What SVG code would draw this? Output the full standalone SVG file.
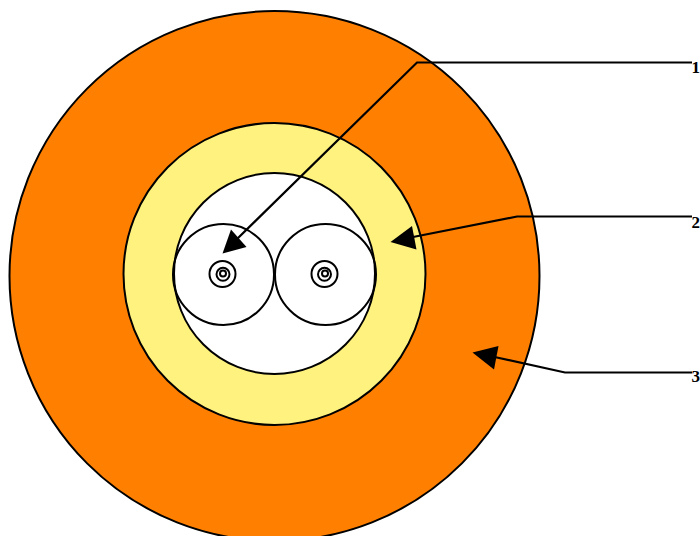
<svg xmlns="http://www.w3.org/2000/svg" width="700" height="536" viewBox="0 0 700 536">
<style>
circle{stroke:#000;stroke-width:2;fill:none}
.l{fill:none;stroke:#000;stroke-width:2.200}
.h{fill:#000;stroke:none}
text{font-family:"Liberation Serif",serif;font-weight:bold;font-size:17px;fill:#000}
</style>
<rect width="700" height="536" fill="#fff"/>
<g id="jacket"><circle cx="274.500" cy="276" r="265" style="fill:#ff8000"/></g>
<g id="strength"><circle cx="274.500" cy="274" r="151" style="fill:#fff27f"/></g>
<g id="tube"><circle cx="274.500" cy="273.500" r="100.500" style="fill:#fff"/></g>
<g id="fiber-left">
<circle cx="223.500" cy="274.500" r="50.500"/>
<circle cx="222.500" cy="274" r="13"/>
<circle cx="223" cy="274.300" r="6.500"/>
<circle cx="223" cy="273.500" r="3"/>
</g>
<g id="fiber-right">
<circle cx="325.500" cy="274.500" r="50.500"/>
<circle cx="324.500" cy="274" r="13"/>
<circle cx="324.500" cy="274.300" r="6.500"/>
<circle cx="325" cy="273.500" r="3"/>
</g>
<g id="connectors">
<path class="l" d="M692 62.500H417L236 240"/>
<polygon class="h" points="222.500,253.500 231,229.500 246.500,247"/>
<path class="l" d="M692 216.500H517L408 238"/>
<polygon class="h" points="390.500,242 412,226 416.500,249.500"/>
<path class="l" d="M692 372.500H565L490 356"/>
<polygon class="h" points="472.500,352.500 498.500,346 494,369.500"/>
</g>
<g id="label-1"><text x="691.500" y="73">1</text></g>
<g id="label-2"><text x="691.500" y="228">2</text></g>
<g id="label-3"><text x="691.500" y="382">3</text></g>
</svg>
